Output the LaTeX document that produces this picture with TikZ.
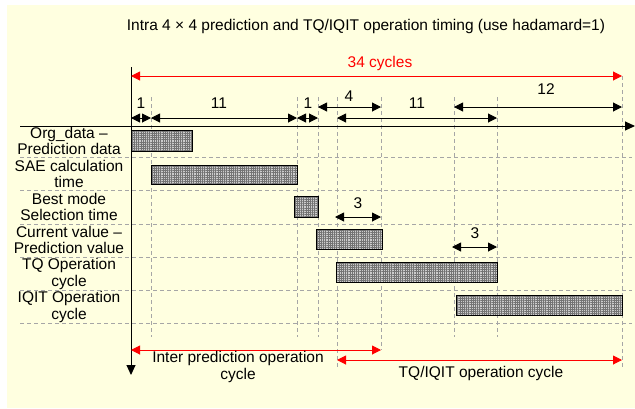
\documentclass[tikz,border=0pt]{standalone}
\usepackage{fontspec}
\setmainfont{Liberation Sans}
\usepackage{xcolor}
\usetikzlibrary{arrows.meta,patterns.meta}
\definecolor{chartbg}{RGB}{255,255,224}
\tikzset{
  tmaxis/.style={line width=1pt, draw=black, -{Triangle[length=10pt,width=9pt]}},
  tmgrid/.style={line width=0.8pt, draw=black!35, dash pattern=on 4pt off 3pt},
  tmdim/.style={line width=1pt, draw=black, {Triangle[length=9pt,width=9pt]}-{Triangle[length=9pt,width=9pt]}},
  tmred/.style={tmdim, draw=red},
  tmbar/.style={draw=black, line width=0.8pt, preaction={fill=black!20},
    pattern={Hatch[distance=2.2pt,line width=0.45pt]}, pattern color=black!55},
  tmtext/.style={font=\fontsize{15.5}{16.5}\selectfont, align=center, inner sep=0pt},
}
\begin{document}
\begin{tikzpicture}[x=1pt,y=-1pt]
\useasboundingbox (0,0) rectangle (635,408);
\fill[chartbg] (7,5) rectangle (635,408);
% cycle ticks on the time axis
\coordinate (t0) at (131,0);
\coordinate (t1) at (151,0);
\coordinate (t12) at (297,0);
\coordinate (t13) at (318,0);
\coordinate (t14) at (337,0);
\coordinate (t17) at (381,0);
\coordinate (t22) at (454,0);
\coordinate (t25) at (497,0);
\coordinate (t34) at (622,0);
% rows of dimension arrows
\coordinate (yred) at (0,76);
\coordinate (yup) at (0,107);
\coordinate (ylow) at (0,118);
\coordinate (ygrid) at (0,97);
\coordinate (yend) at (0,337);
\coordinate (yinter) at (0,350);
\coordinate (ytq) at (0,360);
\coordinate (ylong) at (0,368);
\node[tmtext] (title) at (366,26) {Intra 4 × 4 prediction and TQ/IQIT operation timing (use hadamard=1)};
\node[tmtext, text=red] (total) at (380,63) {34 cycles};
% grid
\foreach \y in {157,190,224,257,290,323}
  \draw[tmgrid] (20,\y) -- (632,\y);
\foreach \t in {t1,t12,t13,t22,t25}
  \draw[tmgrid] (\t |- ygrid) -- (\t |- yend);
\draw[tmgrid] (t14 |- ygrid) -- (t14 |- ylong);
\draw[tmgrid] (t17 |- ygrid) -- (t17 |- yinter);
\draw[tmgrid] (t34 |- yred) -- (t34 |- ylong);
% axes
\draw[tmaxis] (131,67) -- (131,375);
\draw[tmaxis] (20,126) -- (635,126);
% cycle counts
\draw[tmred] (t0 |- yred) -- (t34 |- yred);
\draw[tmdim] (t0 |- ylow) -- (t1 |- ylow);
\draw[tmdim] (t1 |- ylow) -- (t12 |- ylow);
\draw[tmdim] (t12 |- ylow) -- (t13 |- ylow);
\draw[tmdim] (t14 |- ylow) -- (t25 |- ylow);
\draw[tmdim] (t13 |- yup) -- (t17 |- yup);
\draw[tmdim] (t22 |- yup) -- (t34 |- yup);
\node[tmtext] (n1a) at (141,103) {1};
\node[tmtext] (n11a) at (219,103) {11};
\node[tmtext] (n1b) at (308,103) {1};
\node[tmtext] (n4) at (349,96) {4};
\node[tmtext] (n11b) at (417,103) {11};
\node[tmtext] (n12) at (546,89) {12};
% row names
\node[tmtext] (org) at (69,141) {Org\_data –\\Prediction data};
\node[tmtext] (sae) at (69,174) {SAE calculation\\time};
\node[tmtext] (best) at (69,207) {Best mode\\Selection time};
\node[tmtext] (cur) at (69,240) {Current value –\\Prediction value};
\node[tmtext] (tq) at (69,274) {TQ Operation\\cycle};
\node[tmtext] (iqit) at (69,307) {IQIT Operation\\cycle};
% bars
\draw[tmbar] (131,130) rectangle (192,151);
\draw[tmbar] (151,165) rectangle (297,184);
\draw[tmbar] (294,196) rectangle (318,217);
\draw[tmbar] (316,229) rectangle (382,249);
\draw[tmbar] (336,262) rectangle (497,282);
\draw[tmbar] (456,295) rectangle (622,315);
% latency of three cycles
\coordinate (ya) at (0,217);
\coordinate (yb) at (0,247);
\draw[tmdim] (335,217) -- (t17 |- ya);
\draw[tmdim] (452,247) -- (t25 |- yb);
\node[tmtext] (n3a) at (358,203) {3};
\node[tmtext] (n3b) at (475,233) {3};
% phases
\draw[tmred] (t0 |- yinter) -- (t17 |- yinter);
\draw[tmred] (t14 |- ytq) -- (t34 |- ytq);
\node[tmtext] (inter) at (238,367) {Inter prediction operation\\cycle};
\node[tmtext] (tqiqit) at (481,373) {TQ/IQIT operation cycle};
\end{tikzpicture}
\end{document}
